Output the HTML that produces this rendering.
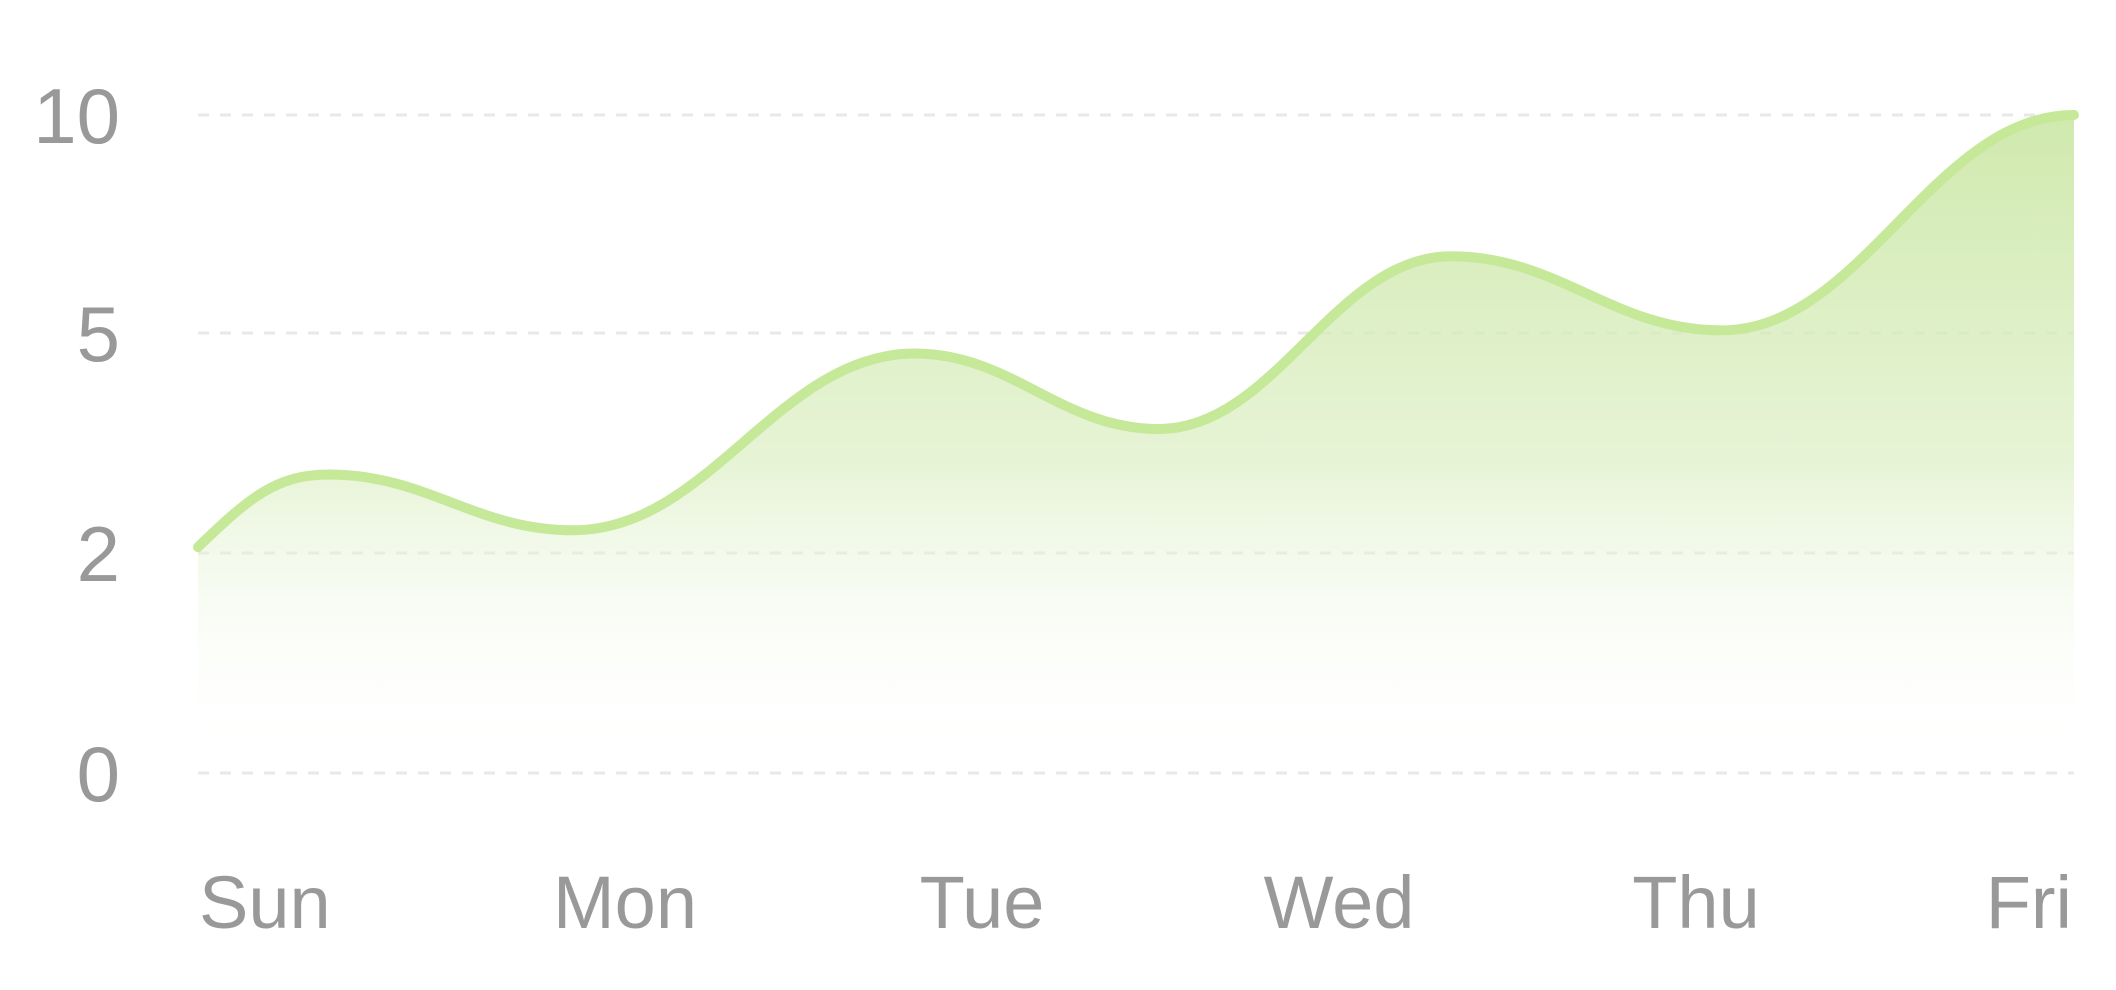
<!DOCTYPE html>
<html><head><meta charset="utf-8"><style>
html,body{margin:0;padding:0;background:#fff;}
svg{display:block;}
text{font-family:"Liberation Sans",sans-serif;fill:#999;}
</style></head><body>
<svg id="chart" width="2116" height="990" viewBox="0 0 2116 990">
<defs></defs>
<g id="grid"></g>
<g id="yaxis"></g>
<g id="xaxis"></g>
<g id="series"></g>
</svg>
<script>
const yTicks = [0, 2, 5, 10];
const days = ["Sun", "Mon", "Tue", "Wed", "Thu", "Fri"];
const pointDays = [0, 0.35, 1.0, 1.91, 2.56, 3.34, 4.06, 5];
const pointValues = [2.08, 3.07, 2.31, 4.72, 3.69, 6.76, 5.06, 10];

const NS = "http://www.w3.org/2000/svg";
const X0 = 198, X1 = 2074;
const tickY = [773, 553, 333, 115];
function xScale(d){ return X0 + (X1 - X0) * d / (days.length - 1); }
function yScale(v){
  for (let i = 0; i < yTicks.length - 1; i++) {
    if (v <= yTicks[i+1] || i === yTicks.length - 2) {
      const t = (v - yTicks[i]) / (yTicks[i+1] - yTicks[i]);
      return tickY[i] + (tickY[i+1] - tickY[i]) * t;
    }
  }
}
function mk(tag, attrs, parent){
  const e = document.createElementNS(NS, tag);
  for (const k in attrs) e.setAttribute(k, attrs[k]);
  parent.appendChild(e); return e;
}
const svg = document.getElementById("chart");
const defs = svg.querySelector("defs");
defs.innerHTML = '<linearGradient id="fg" x1="0" y1="100" x2="0" y2="760" gradientUnits="userSpaceOnUse"><stop offset="0" stop-color="#c9e6a2" stop-opacity="0.9"/><stop offset="0.55" stop-color="#dcefc4" stop-opacity="0.7"/><stop offset="1" stop-color="#ffffff" stop-opacity="0"/></linearGradient>';

const grid = document.getElementById("grid");
const yaxis = document.getElementById("yaxis");
yTicks.forEach((t) => {
  const y = yScale(t);
  const l = mk("line", {x1: X0, x2: X1, y1: y, y2: y, stroke: "#e8e8e8", "stroke-width": 3, "stroke-dasharray": "11 11"}, grid);
  
  
  const tx = mk("text", {x: 120, y: y + 28, "text-anchor": "end", "font-size": 78}, yaxis);
  tx.textContent = t;
  
  
});

const xaxis = document.getElementById("xaxis");
days.forEach((d, i) => {
  let anchor = "middle", x = 268 + i * 357;
  if (i === 0) { anchor = "start"; x = 199; }
  if (i === days.length - 1) { anchor = "end"; x = 2072; }
  const tx = mk("text", {x: x, y: 928, "text-anchor": anchor, "font-size": 74}, xaxis);
  tx.textContent = d;
  
  
});

const pts = pointDays.map((d, i) => [xScale(d), yScale(pointValues[i])]);
function curve(p){
  let s = "M" + p[0][0] + "," + p[0][1];
  for (let i = 0; i < p.length - 1; i++) {
    const p0 = p[Math.max(0, i-1)], p1 = p[i], p2 = p[i+1], p3 = p[Math.min(p.length-1, i+2)];
    const k = 0.5 / 3;
    let c1y = p1[1] + (p2[1] - p0[1]) * k, c2y = p2[1] - (p3[1] - p1[1]) * k;
    const c1x = p1[0] + (p2[0] - p1[0]) * 0.4, c2x = p2[0] - (p2[0] - p1[0]) * 0.4;
    if (i > 0 && (p1[1]-p0[1])*(p2[1]-p1[1]) < 0) c1y = p1[1];
    if (i < p.length-2 && (p2[1]-p1[1])*(p3[1]-p2[1]) < 0) c2y = p2[1];
    if (i === 0) c1y = p1[1] + (p2[1] - p1[1]) * 0.7;
    if (i === p.length-2) c2y = p2[1];
    s += " C" + c1x + "," + c1y + " " + c2x + "," + c2y + " " + p2[0] + "," + p2[1];
  }
  return s;
}
const series = document.getElementById("series");
const line = curve(pts);
const area = mk("path", {d: line + " L" + X1 + ",755 L" + X0 + ",755 Z", fill: "url(#fg)"}, series);


const path = mk("path", {d: line, fill: "none", stroke: "#c6e899", "stroke-width": 10, "stroke-linecap": "round"}, series);


</script>
</body></html>
